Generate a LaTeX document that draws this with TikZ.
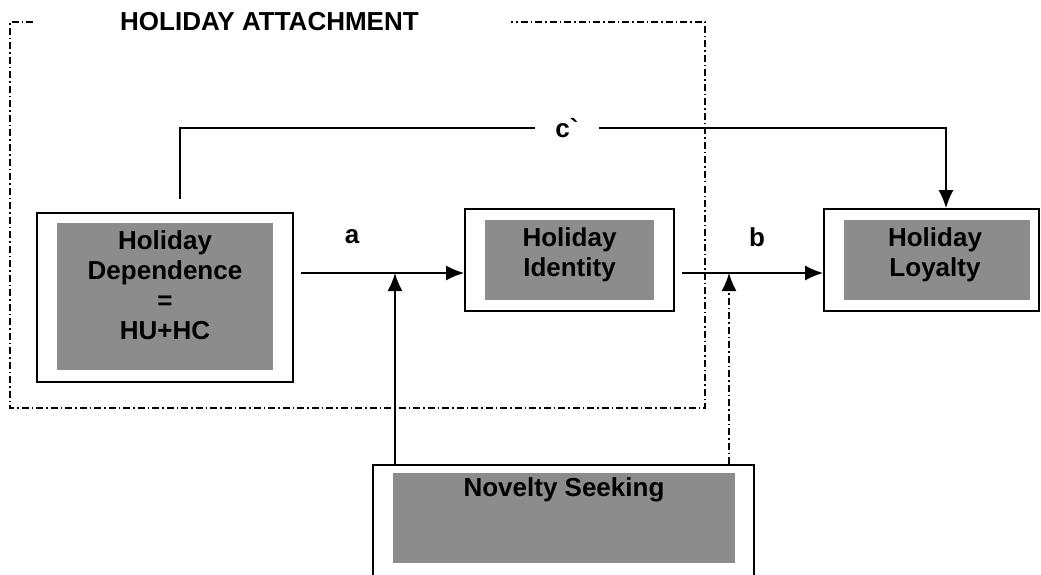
\documentclass[tikz,border=0pt]{standalone}
\usepackage{fontspec}
\setmainfont{Liberation Sans}
\usepackage{tikz}
\usetikzlibrary{positioning, arrows.meta}
\tikzset{%
	>={Latex[length=18pt,width=15pt]},
	line/.style = {line width = 1.6pt},
	dashdot/.style = {line width = 1.6pt, dash pattern = on 7pt off 3pt on 1.5pt off 3pt},
	outer/.style = {draw, line width = 1.8pt, fill = white, inner sep = 0pt},
	shade/.style = {fill = black!45, inner sep = 0pt},
	txt/.style = {font = \fontsize{26}{30}\selectfont\bfseries, align = center, inner sep = 0pt},
	lbl/.style = {font = \fontsize{26}{30}\selectfont\bfseries, fill = white, inner xsep = 20pt, inner ysep = 2pt}
}
\begin{document}
\begin{tikzpicture}[x=1pt, y=-1pt]
	\useasboundingbox (0,0) rectangle (1041,575);
	% holiday attachment frame
	\draw [dashdot] (33,22) -- (10,22) -- (10,408) -- (705,408) -- (705,22) -- (511,22);
	\node [txt, anchor = west] (title) at (120,22) {HOLIDAY ATTACHMENT};
	% boxes
	\node [outer, minimum width = 256, minimum height = 169] (hd) at (165,297.5) {};
	\node [shade, minimum width = 216, minimum height = 147] (hdin) at (165,296.5) {};
	\node [txt] (hdtxt) at (165,285) {Holiday\\Dependence\\=\\HU+HC};
	\node [outer, minimum width = 209, minimum height = 102] (hi) at (569.5,260) {};
	\node [shade, minimum width = 169, minimum height = 80] (hiin) at (569.5,260) {};
	\node [txt] (hitxt) at (569.5,255) {Holiday\\Identity};
	\node [outer, minimum width = 215, minimum height = 102] (hl) at (931.5,260) {};
	\node [shade, minimum width = 186, minimum height = 80] (hlin) at (937,260) {};
	\node [txt] (hltxt) at (935,255) {Holiday\\Loyalty};
	\node [outer, minimum width = 381, minimum height = 130, anchor = north] (ns) at (563.5,464) {};
	\node [shade, minimum width = 342, minimum height = 90, anchor = north] (nsin) at (564,473) {};
	\node [txt] (nstxt) at (564,490) {Novelty Seeking};
	% paths
	\coordinate (ma) at (395,273);
	\coordinate (mb) at (729,273);
	\coordinate (cc) at (180,128);
	\coordinate (cl) at (946,128);
	\draw [->, line, shorten <= 7pt] (hd.east |- ma) -- (hi.west |- ma);
	\draw [->, line, shorten <= 7pt] (hi.east |- mb) -- (hl.west |- mb);
	\draw [->, line] (ns.north -| ma) -- (ma);
	\draw [->, dashdot] (ns.north -| mb) -- (mb);
	\draw [->, line, shorten <= 13pt] (hd.north -| cc) -- (cc) -- (cl) -- (hl.north -| cl);
	\node [lbl] (c) at (567,128) {c\textasciigrave};
	\node [txt] (a) at (352,237) {a};
	\node [txt] (b) at (757,237) {b};
\end{tikzpicture}
\end{document}
